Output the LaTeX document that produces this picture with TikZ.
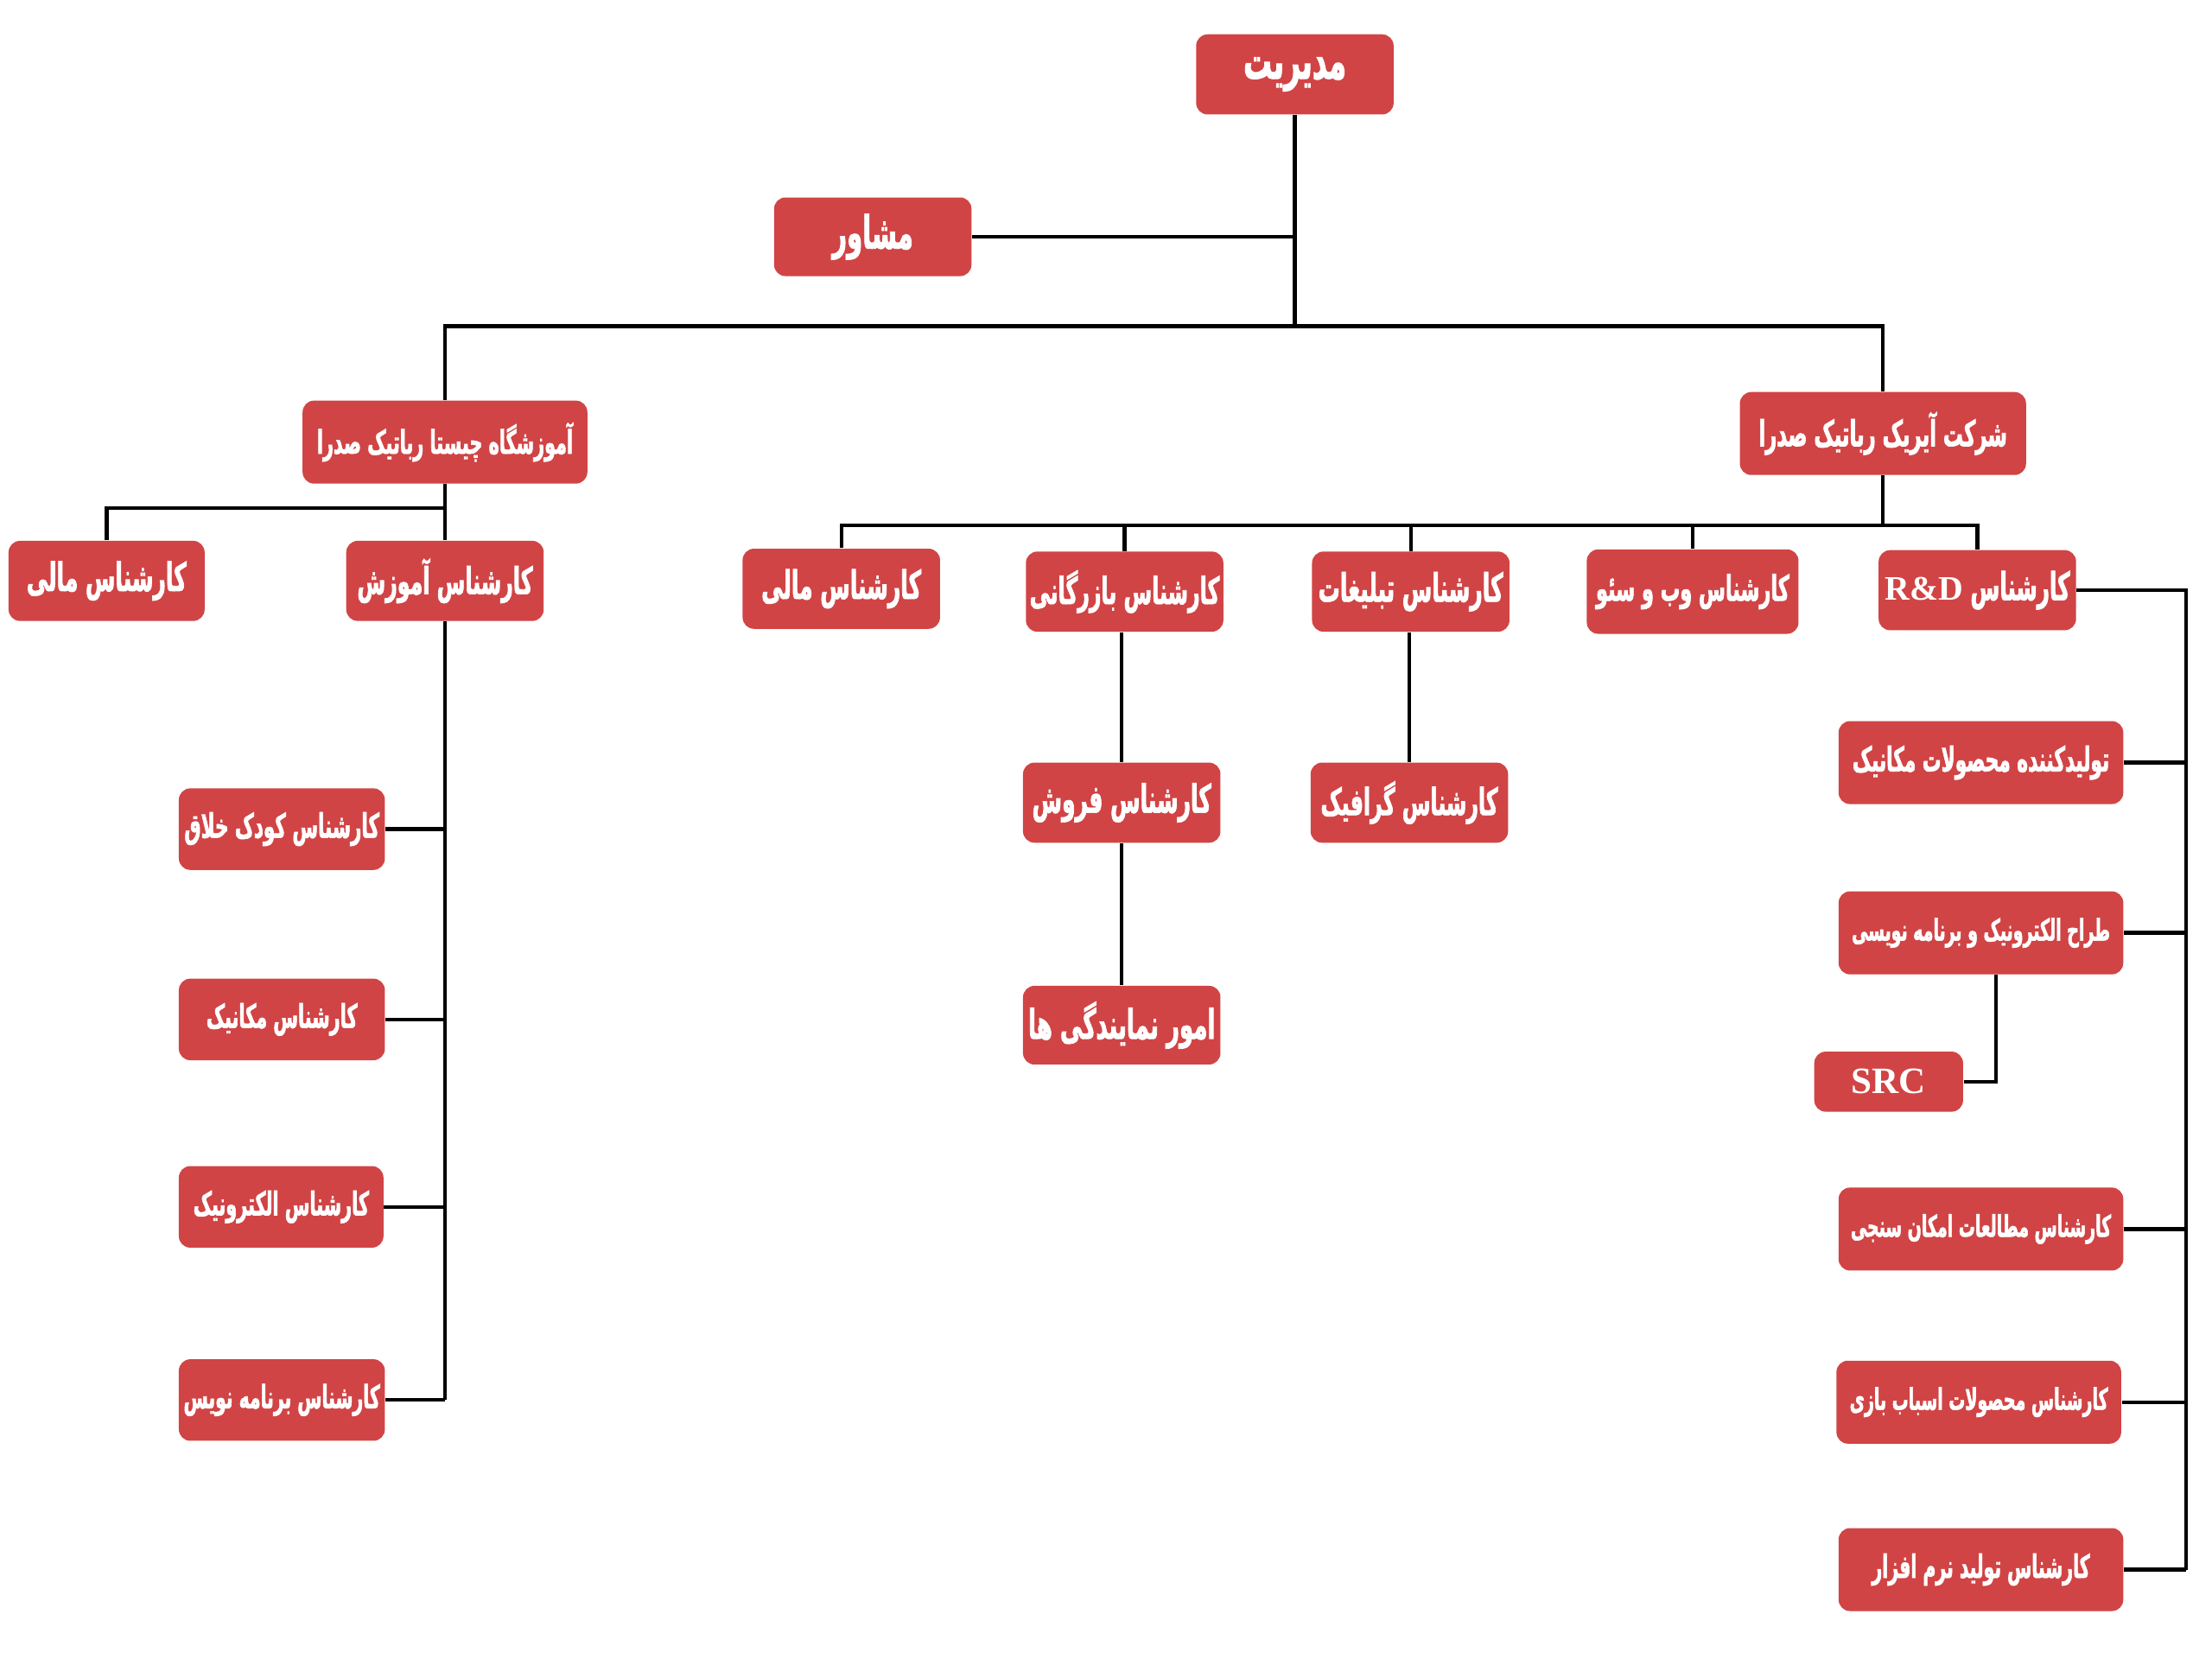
\documentclass[tikz,border=0pt]{standalone}
\usepackage{fontspec}
\TeXXeTstate=1
\newfontfamily\fa[Script=Arabic,FakeStretch=0.55,BoldFeatures={FakeBold=1.5}]{DejaVu Sans}
\newfontfamily\latserif{Liberation Serif}
\newcommand{\fatext}[1]{\beginR #1\endR}
\definecolor{boxred}{RGB}{209,68,69}
\tikzset{
  box/.style={fill=boxred, rounded corners=4pt, text=white, inner sep=0pt, align=center},
  fsz/.style={font=\fa\bfseries\fontsize{#1}{#1}\selectfont},
  big/.style={box, minimum width=69pt, minimum height=28pt, fsz=17},
  unit/.style={box, minimum width=100pt, minimum height=29pt, fsz=12},
  mid/.style={box, minimum width=69pt, minimum height=28pt, fsz=13.7},
  leaf/.style={box, minimum width=72pt, minimum height=28.5pt, fsz=11.4},
  rdleaf/.style={box, minimum width=99.5pt, minimum height=29pt, fsz=10.4},
  srcbox/.style={box, minimum width=52pt, minimum height=21pt, font=\latserif\bfseries\fontsize{13}{15}\selectfont},
  link/.style={draw=black, line width=1.3pt}
}
\begin{document}
\begin{tikzpicture}[x=0.5pt,y=-0.5pt]
\useasboundingbox (0,0) rectangle (1546,1159.5);
% top
\node[big, fsz=18] (mgr) at (905,52) {\fatext{مدیریت}};
\node[big, minimum height=27.5pt, fsz=16] (adv) at (610,165.5) {\fatext{مشاور}};
\node[unit, minimum width=99.5pt, fsz=11.4] (school) at (311,309) {\fatext{آموزشگاه چیستا رباتیک صدرا}};
\node[unit, fsz=12.5] (company) at (1316,303) {\fatext{شرکت آیریک رباتیک صدرا}};
\coordinate (busA) at (905,228);
% school branch
\node[mid, minimum width=68.5pt] (sfin) at (74.5,406) {\fatext{کارشناس مالی}};
\node[mid, fsz=13] (edu) at (311,406) {\fatext{کارشناس آموزش}};
\coordinate (busB) at (311,355);
\node[leaf, fsz=11.8] (e1) at (197,579.5) {\fatext{کارشناس کودک خلاق}};
\node[leaf] (e2) at (197,712.5) {\fatext{کارشناس مکانیک}};
\node[leaf, minimum width=71.5pt] (e3) at (196.5,843.5) {\fatext{کارشناس الکترونیک}};
\node[leaf, fsz=11.2] (e4) at (197,978.5) {\fatext{کارشناس برنامه نویس}};
% company branch
\coordinate (busC) at (1316,367);
\node[mid] (cfin) at (588,411.5) {\fatext{کارشناس مالی}};
\node[mid, fsz=13] (trade) at (786,413.5) {\fatext{کارشناس بازرگانی}};
\node[mid] (adv2) at (986,413.5) {\fatext{کارشناس تبلیغات}};
\node[mid, minimum width=74pt, minimum height=29.5pt, fsz=12.3] (web) at (1183,413.5) {\fatext{کارشناس وب و سئو}};
\node[mid, fsz=13.5] (rd) at (1382,412.5) {\fatext{کارشناس {\latserif\bfseries\fontsize{12}{12}\selectfont\beginL R\&D\endL}}};
\node[mid] (sales) at (784,561) {\fatext{کارشناس فروش}};
\node[mid, minimum height=27.5pt, fsz=14.3] (agency) at (784,716.5) {\fatext{امور نمایندگی ها}};
\node[mid, fsz=13] (graphic) at (985,561) {\fatext{کارشناس گرافیک}};
% R&D children
\coordinate (rdbus) at (1528,409);
\node[rdleaf, fsz=11.9] (r1) at (1384.5,533) {\fatext{تولیدکننده محصولات مکانیک}};
\node[rdleaf] (r2) at (1384.5,652) {\fatext{طراح الکترونیک و برنامه نویسی}};
\node[srcbox] (src) at (1320,756) {SRC};
\node[rdleaf] (r3) at (1384.5,859) {\fatext{کارشناس مطالعات امکان سنجی}};
\node[rdleaf] (r4) at (1383,980) {\fatext{کارشناس محصولات اسباب بازی}};
\node[rdleaf, fsz=11.2] (r5) at (1384.5,1097) {\fatext{کارشناس تولید نرم افزار}};
% connectors
\draw[link] (mgr.south) -- (busA);
\draw[link] (adv.east) -- (adv.east -| mgr.south);
\draw[link] (school.north) |- (busA) -| (company.north);
\draw[link] (school.south) -- (school.south |- busB) -| (sfin.north);
\draw[link] (school.south |- busB) -- (edu.north);
\draw[link] (edu.south) -- (edu.south |- e4.east);
\draw[link] (e1.east) -- (e1.east -| edu.south);
\draw[link] (e2.east) -- (e2.east -| edu.south);
\draw[link] (e3.east) -- (e3.east -| edu.south);
\draw[link] (e4.east) -- (e4.east -| edu.south);
\draw[link] (company.south) -- (busC);
\draw[link] (cfin.north) -- (cfin.north |- busC) -- (busC -| rd.north) -- (rd.north);
\draw[link] (trade.north) -- (trade.north |- busC);
\draw[link] (adv2.north) -- (adv2.north |- busC);
\draw[link] (web.north) -- (web.north |- busC);
\draw[link] (sales.north) -- (sales.north |- trade.south);
\draw[link] (agency.north) -- (sales.south);
\draw[link] (graphic.north) -- (graphic.north |- adv2.south);
\draw[link] (rd.east) -- (rd.east -| rdbus) -- (rdbus |- r5.east);
\draw[link] (r1.east) -- (r1.east -| rdbus);
\draw[link] (r2.east) -- (r2.east -| rdbus);
\draw[link] (r3.east) -- (r3.east -| rdbus);
\draw[link] (r4.east) -- (r4.east -| rdbus);
\draw[link] (r5.east) -- (r5.east -| rdbus);
\draw[link] ([xshift=5.25pt]r2.south) |- (src.east);
\end{tikzpicture}
\end{document}
